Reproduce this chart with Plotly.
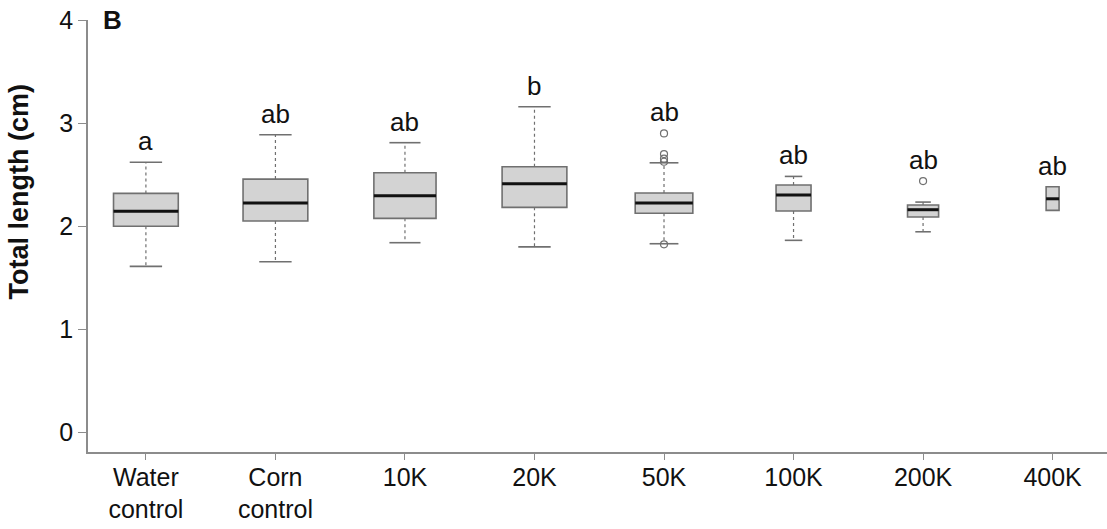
import plotly.graph_objects as go

# Group labels (x axis)
groups = ["Water<br>control", "Corn<br>control", "10K", "20K", "50K", "100K", "200K", "400K"]

# Box statistics, total length (cm)
lower_whisker = [1.61, 1.655, 1.84, 1.80, 1.83, 1.863, 1.946, 2.154]
q1 = [2.00, 2.05, 2.076, 2.183, 2.125, 2.147, 2.089, 2.154]
median = [2.146, 2.224, 2.295, 2.412, 2.224, 2.302, 2.16, 2.266]
q3 = [2.318, 2.457, 2.518, 2.577, 2.322, 2.399, 2.205, 2.383]
upper_whisker = [2.62, 2.887, 2.81, 3.159, 2.615, 2.483, 2.234, 2.383]
outliers = [[], [], [], [], [2.90, 2.70, 2.655, 2.625, 1.824], [], [2.438], []]

# Significance letters
letters = ["a", "ab", "ab", "b", "ab", "ab", "ab", "ab"]

y_ticks = [0, 1, 2, 3, 4]

# Styling
FONT = "Liberation Sans, Arial, sans-serif"
FILL = "#D3D3D3"
EDGE = "#707070"
AXIS = "#8c8c8c"
box_widths = [0.50, 0.50, 0.48, 0.50, 0.445, 0.27, 0.24, 0.10]

fig = go.Figure()

xs = list(range(len(groups)))

for i in xs:
    fig.add_trace(go.Box(
        x=[i], q1=[q1[i]], median=[median[i]], q3=[q3[i]],
        lowerfence=[q1[i]], upperfence=[q3[i]],
        width=box_widths[i], whiskerwidth=0,
        fillcolor=FILL, line=dict(color=EDGE, width=1.6),
        boxpoints=False, hoverinfo="skip", showlegend=False,
    ))

# whiskers (dashed), caps and medians
wx, wy, cx, cy, mx, my = [], [], [], [], [], []
for i in xs:
    w = box_widths[i]
    if upper_whisker[i] > q3[i]:
        wx += [i, i, None]
        wy += [q3[i], upper_whisker[i], None]
        cx += [i - w / 4, i + w / 4, None]
        cy += [upper_whisker[i], upper_whisker[i], None]
    if lower_whisker[i] < q1[i]:
        wx += [i, i, None]
        wy += [q1[i], lower_whisker[i], None]
        cx += [i - w / 4, i + w / 4, None]
        cy += [lower_whisker[i], lower_whisker[i], None]
    mx += [i - w / 2, i + w / 2, None]
    my += [median[i], median[i], None]

fig.add_trace(go.Scatter(x=wx, y=wy, mode="lines",
                         line=dict(color=EDGE, width=1.2, dash="3px,3px"),
                         hoverinfo="skip", showlegend=False))
fig.add_trace(go.Scatter(x=cx, y=cy, mode="lines",
                         line=dict(color=EDGE, width=1.6),
                         hoverinfo="skip", showlegend=False))
fig.add_trace(go.Scatter(x=mx, y=my, mode="lines",
                         line=dict(color="#111111", width=3),
                         hoverinfo="skip", showlegend=False))

ox, oy = [], []
for i in xs:
    for v in outliers[i]:
        ox.append(i)
        oy.append(v)
fig.add_trace(go.Scatter(x=ox, y=oy, mode="markers",
                         marker=dict(symbol="circle-open", size=7,
                                     color=EDGE, line=dict(width=1.2)),
                         hoverinfo="skip", showlegend=False))

# letters above each group
for i in xs:
    top = max([upper_whisker[i], q3[i]] + outliers[i])
    fig.add_annotation(x=i, y=top, text=letters[i], showarrow=False,
                       yanchor="bottom", yshift=4,
                       font=dict(family=FONT, size=26, color="#111111"))

# y-axis title
fig.add_annotation(x=0, xref="paper", y=0.603, yref="paper", xshift=-69,
                   text="<b>Total length (cm)</b>", textangle=-90,
                   showarrow=False, xanchor="center", yanchor="middle",
                   font=dict(family=FONT, size=27, color="#111111"))

# panel label
fig.add_annotation(x=0, xref="paper", y=1.0, yref="paper", xshift=24,
                   text="<b>B</b>", showarrow=False,
                   xanchor="center", yanchor="middle",
                   font=dict(family=FONT, size=26, color="#111111"))

fig.update_layout(
    width=1107, height=529,
    margin=dict(l=88, r=0, t=20, b=77),
    paper_bgcolor="white", plot_bgcolor="white",
    boxmode="overlay",
    showlegend=False,
    xaxis=dict(
        range=[-0.447, 7.42], tickmode="array", tickvals=xs, ticktext=groups,
        showgrid=False, zeroline=False, showline=True, linecolor=AXIS,
        linewidth=1.5, ticks="outside", ticklen=6, tickcolor=AXIS,
        ticklabelstandoff=-4,
        tickfont=dict(family=FONT, size=25, color="#111111"),
    ),
    yaxis=dict(
        range=[-0.19, 4.0], tickmode="array", tickvals=y_ticks,
        showgrid=False, zeroline=False, showline=True, linecolor=AXIS,
        linewidth=1.5, ticks="outside", ticklen=8, tickcolor=AXIS,
        tickfont=dict(family=FONT, size=25, color="#111111"),
    ),
)

fig.write_html("out.html")
